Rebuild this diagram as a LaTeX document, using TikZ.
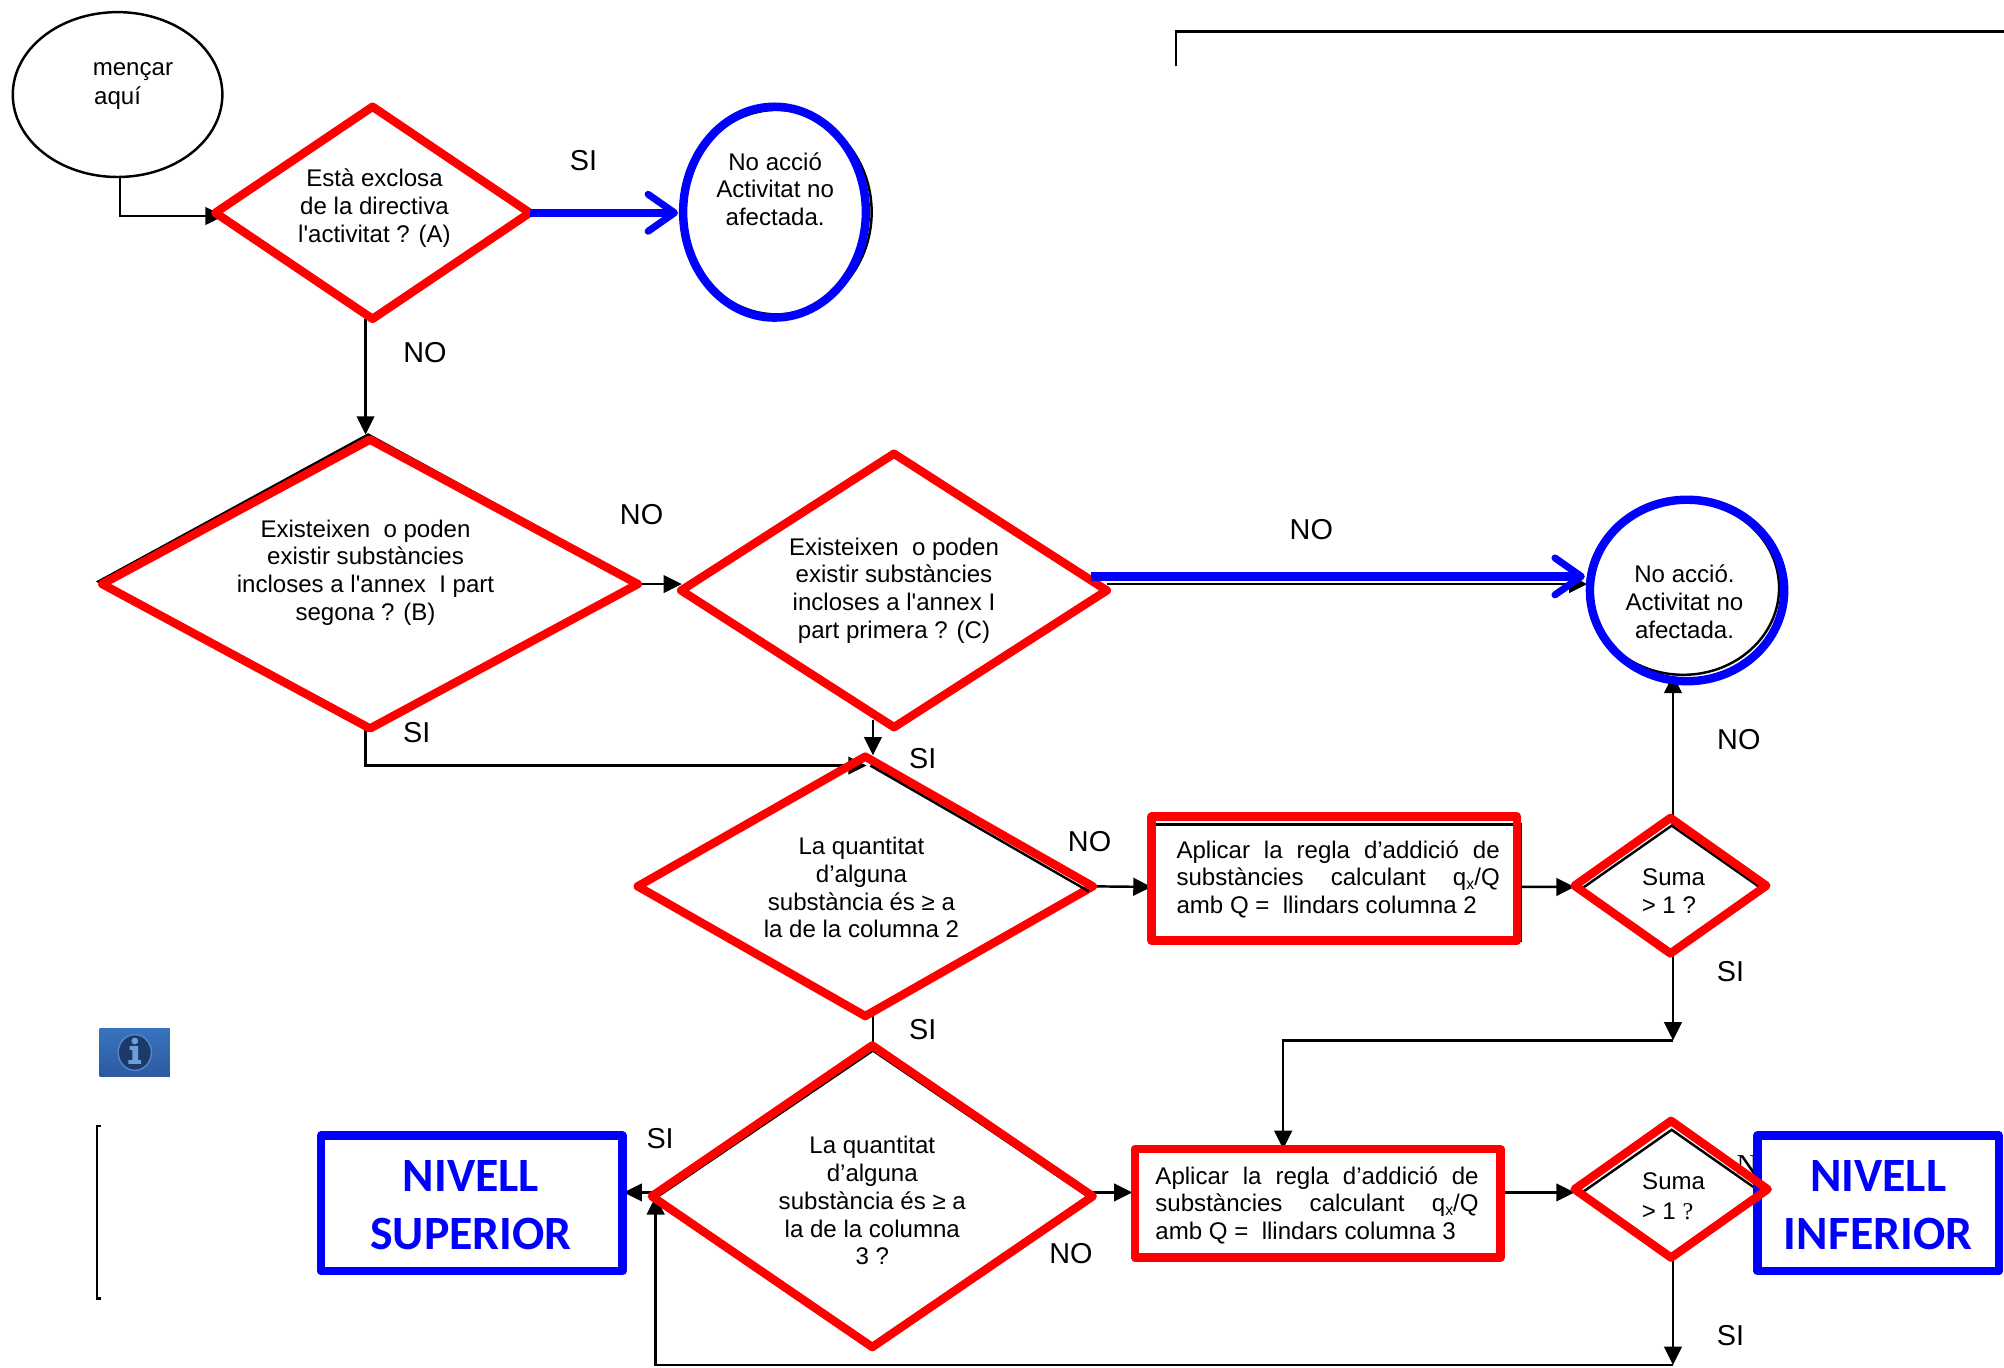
\documentclass[tikz,border=0pt]{standalone}
\usepackage{fontspec}
\setmainfont{Liberation Sans}
\newfontfamily\calfont{Carlito}
\newfontfamily\serfont{Liberation Serif}
\usetikzlibrary{shapes.geometric,arrows.meta,calc}
\def\uu{0.01278cm}
\definecolor{icotop}{RGB}{55,115,190}
\definecolor{icobot}{RGB}{45,90,160}
\definecolor{icodark}{RGB}{28,58,105}
\definecolor{icoedge}{RGB}{85,135,200}
\definecolor{icolight}{RGB}{110,160,215}
\tikzset{
  x=\uu,y=-\uu,
  conn/.style={draw=black,line width=0.7pt,-{Triangle[length=5.2pt,width=5pt]}},
  plainconn/.style={draw=black,line width=0.7pt},
  bluearrow/.style={draw=blue,line width=2.4pt,-{Straight Barb[length=7.5pt,width=10.5pt,line width=2pt,round]}},
  reddia/.style={shape=diamond,draw=red,line width=2.4pt,line join=round,inner sep=0pt,outer sep=0pt},
  blkdia/.style={shape=diamond,draw=black,line width=0.7pt,fill=white,inner sep=0pt,outer sep=0pt},
  redbox/.style={shape=rectangle,draw=red,line width=2.4pt,line join=round,inner sep=0pt,outer sep=0pt},
  bluebox/.style={shape=rectangle,draw=blue,fill=white,line width=2.4pt,line join=round,inner sep=0pt,outer sep=0pt},
  blkbox/.style={shape=rectangle,draw=black,line width=0.7pt,fill=white,inner sep=0pt,outer sep=0pt},
  txt/.style={inner sep=0pt,align=center,font=\fontsize{6.85}{7.9}\selectfont},
  ltxt/.style={inner sep=0pt,align=left,anchor=west,font=\fontsize{6.85}{7.9}\selectfont},
  lab/.style={inner sep=0pt,font=\fontsize{8.2}{9}\selectfont},
  lvl/.style={inner sep=0pt,align=center,text=blue,font=\calfont\bfseries\fontsize{13.6}{16.4}\selectfont},
}
\newcommand{\jl}[1]{\makebox[92pt][s]{#1}}
\begin{document}
\begin{tikzpicture}
\useasboundingbox (0,0) rectangle (1568,1069.6);
% black under-shapes
\node[blkdia,shape=ellipse,minimum width=164*\uu,minimum height=129*\uu] (start) at (92,74) {};
\node[blkdia,shape=ellipse,minimum width=148*\uu,minimum height=160*\uu] (endAk) at (608,166) {};
\node[blkdia,shape=ellipse,minimum width=150*\uu,minimum height=136*\uu] (endBk) at (1317,460) {};
\node[blkdia,minimum width=246*\uu,minimum height=166*\uu] (Ak) at (292,166.5) {};
\node[blkdia,minimum width=422*\uu,minimum height=230*\uu] (Bk) at (288,455) {};
\node[blkdia,minimum width=333*\uu,minimum height=214*\uu] (Ck) at (700,462) {};
\node[blkdia,minimum width=356*\uu,minimum height=203*\uu] (Dk) at (677,693.5) {};
\node[blkdia,minimum width=342*\uu,minimum height=232*\uu] (Ek) at (683,938) {};
\node[blkbox,minimum width=289*\uu,minimum height=91*\uu] (R2k) at (1045.5,690.5) {};
\node[blkdia,minimum width=140*\uu,minimum height=98*\uu] (S1k) at (1308,695) {};
\node[blkbox,minimum width=288*\uu,minimum height=85*\uu] (R3k) at (1030,941.5) {};
\node[blkdia,minimum width=140*\uu,minimum height=98*\uu] (S2k) at (1308,933) {};
% stray label behind the lower right box
\node[inner sep=0pt,font=\serfont\fontsize{8.2}{9}\selectfont] (noS2) at (1375,912) {NO};
% connectors
\coordinate (topa) at (920,52);
\coordinate (topb) at (920,24.5);
\coordinate (topc) at (1568,24.5);
\draw[plainconn] (topa) -- (topb) -- (topc);
\coordinate (bra) at (79,881);
\coordinate (brb) at (76,881);
\coordinate (brc) at (76,1016);
\coordinate (brd) at (79,1016);
\draw[plainconn] (bra) -- (brb) -- (brc) -- (brd);
\coordinate (st) at (94,138);
\draw[conn] (st) |- ($(Ak.west)+(6,2.5)$);
\draw[conn] ($(Ak.south)+(-6,0)$) -- ($(Bk.north)+(-2,0)$);
\draw[conn] ($(Bk.east)+(0,2)$) -- ($(Ck.west)+(0,-5)$);
\draw[conn] ($(Ck.east)+(0,-5)$) -- ($(endBk.west)+(0,-3)$);
\draw[conn] ($(Ck.south)+(-17,-6)$) -- ($(Dk.north)+(6,-1)$);
\coordinate (bs) at (286,570);
\draw[conn] (bs) |- ($(Dk.north)+(1,7)$);
\draw[conn] (Dk.east) -- ($(R2k.west)+(0,3.5)$);
\draw[conn] ($(R2k.east)+(0,3.5)$) -- ($(S1k.west)+(-6,-1)$);
\draw[conn] ($(S1k.north)+(1,0)$) -- ($(endBk.south)+(-8,0)$);
\coordinate (s1d) at (1309,814);
\draw[conn] ($(S1k.south)+(1,0)$) -- (s1d);
\coordinate (r3t) at (1004,899);
\draw[conn] (s1d) -| (r3t);
\draw[plainconn] ($(Dk.south)+(6,-4)$) -- ($(Ek.north)+(0,-3)$);
\coordinate (lse) at (488,933);
\draw[conn] ($(Ek.west)+(1,-5)$) -- (lse);
\draw[conn] ($(Ek.east)+(0,-5)$) -- ($(R3k.west)+(0,-8.5)$);
\draw[conn] ($(R3k.east)+(0,-8.5)$) -- ($(S2k.west)+(-6,0)$);
\coordinate (s2d) at (1309,1068);
\draw[conn] ($(S2k.south)+(1,0)$) -- (s2d);
\coordinate (elp) at (513,936);
\draw[conn] (s2d) -| (elp);
% coloured outlines
\node[shape=ellipse,draw=blue,line width=2.4pt,inner sep=0pt,outer sep=0pt,minimum width=143*\uu,minimum height=165*\uu] (endA) at (606,166) {};
\node[shape=ellipse,draw=blue,line width=2.4pt,inner sep=0pt,outer sep=0pt,minimum width=152*\uu,minimum height=142*\uu] (endB) at (1320,462) {};
\node[reddia,minimum width=246*\uu,minimum height=166*\uu] (A) at (291.5,166.5) {};
\node[reddia,minimum width=419*\uu,minimum height=226*\uu] (B) at (289.5,457) {};
\node[reddia,minimum width=333*\uu,minimum height=214*\uu] (C) at (699.5,462) {};
\node[reddia,minimum width=356*\uu,minimum height=203*\uu] (D) at (677,693.5) {};
\draw[plainconn] ($(D.north)+(4,7)$) -- ($(D.east)+(-3,4)$);
\node[reddia,minimum width=345*\uu,minimum height=236*\uu] (E) at (682.5,936) {};
\node[redbox,minimum width=286*\uu,minimum height=97*\uu] (R2) at (1044,687.5) {};
\node[redbox,minimum width=286*\uu,minimum height=85*\uu] (R3) at (1031,941.5) {};
\node[reddia,minimum width=150*\uu,minimum height=106*\uu] (S1) at (1307,693) {};
\node[bluebox,minimum width=236*\uu,minimum height=106*\uu] (LS) at (369,941.5) {};
\node[bluebox,minimum width=189*\uu,minimum height=106*\uu] (LI) at (1469.5,941.5) {};
\node[reddia,minimum width=151*\uu,minimum height=107*\uu] (S2) at (1307.5,930.5) {};
\draw[bluearrow] (A.east) -- ($(endA.west)+(-4,0.5)$);
\draw[bluearrow] ($(C.east)+(-12,-11)$) -- ($(endB.west)+(-4,-11)$);
% texts
\node[txt] (tstart1) at (104,56) {mençar};
\node[txt] (tstart2) at (92,77) {aquí};
\node[txt] (tA) at (293,163) {Està exclosa\\de la directiva\\l\textquotesingle activitat ? (A)};
\node[txt] (tendA) at (606.5,148) {No acció\\Activitat no\\afectada.};
\node[txt] (tB) at (286,448) {Existeixen\ \ o poden\\existir substàncies\\incloses a l\textquotesingle annex\ \ I part\\segona ? (B)};
\node[txt] (tC) at (699.5,462) {Existeixen\ \ o poden\\existir substàncies\\incloses a l\textquotesingle annex I\\part primera ? (C)};
\node[txt] (tendB) at (1318,471) {No acció.\\Activitat no\\afectada.};
\node[txt] (tD) at (674,694.5) {La quantitat\\d’alguna\\substància és ≥ a\\la de la columna 2};
\node[txt] (tE) at (682.5,939.5) {La quantitat\\d’alguna\\substància és ≥ a\\la de la columna\\3 ?};
\node[ltxt] (tR2) at (920,688) {\jl{Aplicar la regla d’addició de}\\\jl{substàncies calculant q\raisebox{-1pt}{\fontsize{4.5}{5}\selectfont x}/Q}\\amb Q =\ \ llindars columna 2};
\node[ltxt] (tR3) at (903.5,943) {\jl{Aplicar la regla d’addició de}\\\jl{substàncies calculant q\raisebox{-1pt}{\fontsize{4.5}{5}\selectfont x}/Q}\\amb Q =\ \ llindars columna 3};
\node[txt] (tS1a) at (1309.5,686) {Suma};
\node[ltxt] (tS1b) at (1284,708) {> 1 ?};
\node[txt] (tS2a) at (1309.5,924) {Suma};
\node[ltxt] (tS2b) at (1284,948) {> 1 {\serfont ?}};
\node[lvl] (tLS) at (368.5,943) {NIVELL\\SUPERIOR};
\node[lvl] (tLI) at (1469.5,943) {NIVELL\\INFERIOR};
% branch labels
\node[lab] (l1) at (456.5,125.5) {SI};
\node[lab] (l2) at (332.5,275.5) {NO};
\node[lab] (l3) at (502,402.5) {NO};
\node[lab] (l4) at (1026,414) {NO};
\node[lab] (l5) at (326,573.5) {SI};
\node[lab] (l6) at (722,593.5) {SI};
\node[lab] (l7) at (852.5,658.5) {NO};
\node[lab] (l8) at (1360.5,578.5) {NO};
\node[lab] (l9) at (1354,760.5) {SI};
\node[lab] (l10) at (722,805.5) {SI};
\node[lab] (l11) at (516.5,890.5) {SI};
\node[lab] (l12) at (838,981) {NO};
\node[lab] (l13) at (1354,1045) {SI};
% info icon
\node[shape=rectangle,inner sep=0pt,outer sep=0pt,minimum width=55*\uu,minimum height=37*\uu,top color=icotop,bottom color=icobot] (info) at (105.5,823.5) {};
\fill[fill=icodark,draw=icoedge,line width=0.4pt] (info.center) circle [x radius=13,y radius=14];
\fill[icolight] ($(info.center)+(0,-9)$) circle [radius=2.6];
\fill[icolight] ($(info.center)+(-4,-5)$) -- ++(6.5,0) -- ++(0,11) -- ++(2.5,0) -- ++(0,3) -- ++(-10,0) -- ++(0,-3) -- ++(3,0) -- ++(0,-8) -- ++(-2,0) -- cycle;
\end{tikzpicture}
\end{document}
